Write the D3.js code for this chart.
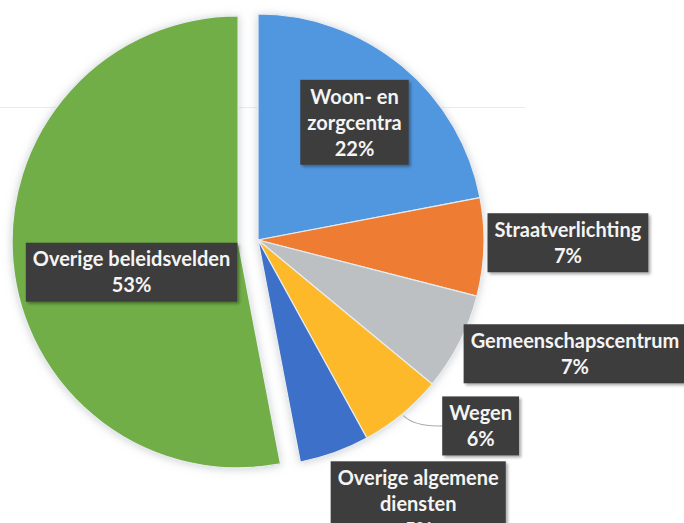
<!DOCTYPE html>
<html>
<head>
<meta charset="utf-8">
<script src="https://cdn.jsdelivr.net/npm/d3@7"></script>
<style>
  html, body { margin: 0; padding: 0; background: #fff; }
  svg { display: block; }
  .lbl text { font-family: Lato, "Open Sans", sans-serif; font-weight: 700; font-size: 20px; fill: #f4f4f4; }
</style>
</head>
<body>
<div id="chart"></div>
<script>
// slices, clockwise from 12 o'clock
const categories = ['Woon- en zorgcentra', 'Straatverlichting', 'Gemeenschapscentrum', 'Wegen',
  'Overige algemene diensten', 'Overige beleidsvelden'];
const labelLines = [['Woon- en', 'zorgcentra'], ['Straatverlichting'], ['Gemeenschapscentrum'], ['Wegen'],
  ['Overige algemene', 'diensten'], ['Overige beleidsvelden']];
const shares = [22, 7, 7, 6, 5, 53];
const colors = ['#5197e0', '#ee7c33', '#bcc0c3', '#fdb92a', '#3d70c8', '#71ae46'];

// label placement: radius factor at mid angle plus a nudge (Excel lets you drag them)
const labelPos = [
  { k: 0.67, dx: 0, dy: -1 },
  { k: 1.372, dx: 0, dy: -7 },
  { k: 1.45, dx: 25, dy: -35 },
  { k: 1.24, dx: 44, dy: -30, leader: true },
  { k: 1.283, dx: 62, dy: -9 },
  { k: 0.487, dx: 3, dy: 20 },
];
const explode = [0, 0, 0, 0, 0, 20];

const width = 684;
const height = 523;
const cx = 258;
const cy = 240;
const R = 226;

const svg = d3.select('#chart').append('svg')
  .attr('width', width)
  .attr('height', height)
  .attr('viewBox', `0 0 ${width} ${height}`);

const defs = svg.append('defs');
const pieShadow = defs.append('filter').attr('id', 'pieShadow')
  .attr('x', '-10%').attr('y', '-10%').attr('width', '120%').attr('height', '120%');
pieShadow.append('feDropShadow').attr('dx', 0).attr('dy', 1).attr('stdDeviation', 4)
  .attr('flood-color', '#9aa0a8').attr('flood-opacity', 0.5);
const boxShadow = defs.append('filter').attr('id', 'boxShadow')
  .attr('x', '-10%').attr('y', '-20%').attr('width', '125%').attr('height', '145%');
boxShadow.append('feDropShadow').attr('dx', 2).attr('dy', 2).attr('stdDeviation', 1.5)
  .attr('flood-color', '#000').attr('flood-opacity', 0.35);

// faint scan line in the source
svg.append('line')
  .attr('x1', 0).attr('x2', 525)
  .attr('y1', 107.5).attr('y2', 107.5)
  .attr('stroke', '#ebebeb').attr('stroke-width', 1.2);

const pie = d3.pie().sort(null).value((d) => d)(shares);
const arc = d3.arc().innerRadius(0).outerRadius(R);
const mid = (d) => (d.startAngle + d.endAngle) / 2;
const offset = (d, i) => [explode[i] * Math.sin(mid(d)), -explode[i] * Math.cos(mid(d))];

const g = svg.append('g').attr('transform', `translate(${cx},${cy})`);

g.append('g').attr('filter', 'url(#pieShadow)')
  .selectAll('path')
  .data(pie)
  .join('path')
  .attr('transform', (d, i) => `translate(${offset(d, i)})`)
  .attr('d', arc)
  .attr('fill', (d, i) => colors[i])
  .attr('stroke', '#e9ecef')
  .attr('stroke-width', 1.2);

const labels = g.selectAll('g.lbl')
  .data(pie)
  .join('g')
  .attr('class', 'lbl');

labels.each(function (d, i) {
  const sel = d3.select(this);
  const p = labelPos[i];
  const [ox, oy] = offset(d, i);
  const a = mid(d);
  const lx = ox + p.k * R * Math.sin(a) + p.dx;
  const ly = oy - p.k * R * Math.cos(a) + p.dy;
  const lines = labelLines[i].concat([`${shares[i]}%`]);
  const lh = 26;
  const padX = 7;
  const padY = 3.5;

  const rect = sel.append('rect').attr('fill', '#3d3d3e').attr('filter', 'url(#boxShadow)');
  const txt = sel.append('text').attr('text-anchor', 'middle');
  lines.forEach((t, j) => {
    txt.append('tspan')
      .attr('x', lx)
      .attr('y', ly - (lines.length * lh) / 2 + lh * j + lh / 2)
      .attr('dy', '0.36em')
      .text(t);
  });
  const w = txt.node().getComputedTextLength ? d3.max(txt.selectAll('tspan').nodes(), (n) => n.getComputedTextLength()) : 100;
  const bw = w + padX * 2;
  const bh = lines.length * lh + padY * 2;
  rect.attr('x', lx - bw / 2).attr('y', ly - bh / 2).attr('width', bw).attr('height', bh);

  if (p.leader) {
    const s = [(R + 2) * Math.sin(a), -(R + 2) * Math.cos(a)];
    const e = [lx - bw / 2, ly];
    sel.insert('path', 'rect')
      .attr('d', `M${s[0]},${s[1]} Q${s[0] + 12},${e[1] + 1} ${e[0]},${e[1]}`)
      .attr('fill', 'none')
      .attr('stroke', '#a9adb2')
      .attr('stroke-width', 1.2);
  }
});
</script>
</body>
</html>
